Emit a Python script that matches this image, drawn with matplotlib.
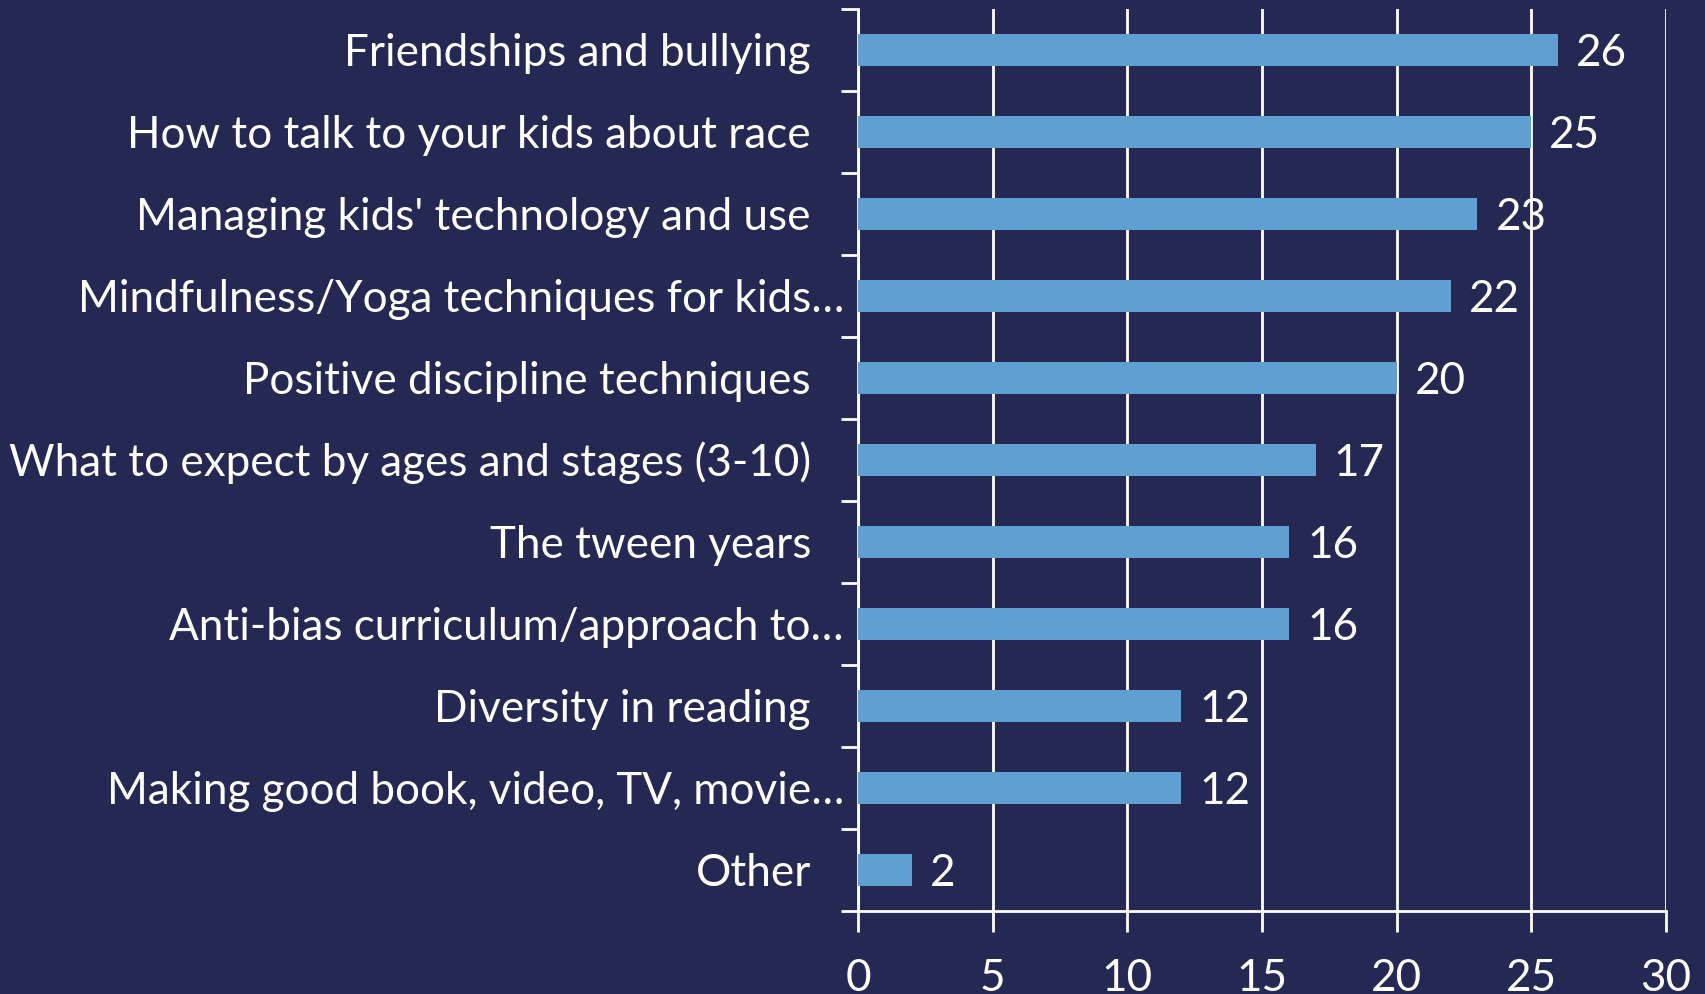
import matplotlib
matplotlib.use("Agg")
import matplotlib.pyplot as plt
import matplotlib.transforms as mtransforms

categories = [
    "Friendships and bullying",
    "How to talk to your kids about race",
    "Managing kids' technology and use",
    "Mindfulness/Yoga techniques for kids…",
    "Positive discipline techniques",
    "What to expect by ages and stages (3-10)",
    "The tween years",
    "Anti-bias curriculum/approach to…",
    "Diversity in reading",
    "Making good book, video, TV, movie…",
    "Other",
]
values = [26, 25, 23, 22, 20, 17, 16, 16, 12, 12, 2]
xticks = [0, 5, 10, 15, 20, 25, 30]

BG = "#262854"
BAR = "#5f9fd2"
FONT = "Lato"
FS = 31.7

fig = plt.figure(figsize=(17.05, 9.94), dpi=100, facecolor=BG)
ax = fig.add_axes([858/1705, 1-911/994, (1666-858)/1705, (911-9)/994])
ax.set_facecolor(BG)

n = len(categories)
ypos = list(range(n))
ax.barh(ypos, values, height=0.4, color=BAR, zorder=3)
ax.set_ylim(n - 0.5, -0.5)
ax.set_xlim(0, 30)

ax.set_xticks(xticks)
ax.set_xticklabels([str(t) for t in xticks], fontsize=FS, color="white", family=FONT)
ax.tick_params(axis="x", length=15, width=2, color="white", pad=19, direction="out")
ax.grid(axis="x", color="white", linewidth=2, zorder=1)

ax.set_yticks([i - 0.5 for i in range(n + 1)])
ax.set_yticklabels([])
ax.tick_params(axis="y", length=12, width=2, color="white", direction="out")

for s in ["top", "right"]:
    ax.spines[s].set_visible(False)
for s in ["left", "bottom"]:
    ax.spines[s].set_color("white")
    ax.spines[s].set_linewidth(2)

trans = mtransforms.blended_transform_factory(ax.transAxes, ax.transData)
for i, (c, v) in enumerate(zip(categories, values)):
    if c.endswith("…"):
        off = -14
    else:
        off = -47
    t = mtransforms.offset_copy(trans, fig=fig, x=off, y=-3, units="dots")
    ax.text(0, i, c, transform=t, ha="right", va="center", fontsize=FS,
            color="white", family=FONT)
    tv = mtransforms.offset_copy(ax.transData, fig=fig, x=18, y=-4, units="dots")
    ax.text(v, i, str(v), transform=tv, ha="left", va="center", fontsize=FS,
            color="white", family=FONT, zorder=4)

fig.savefig("out.png", dpi=100, facecolor=BG)
